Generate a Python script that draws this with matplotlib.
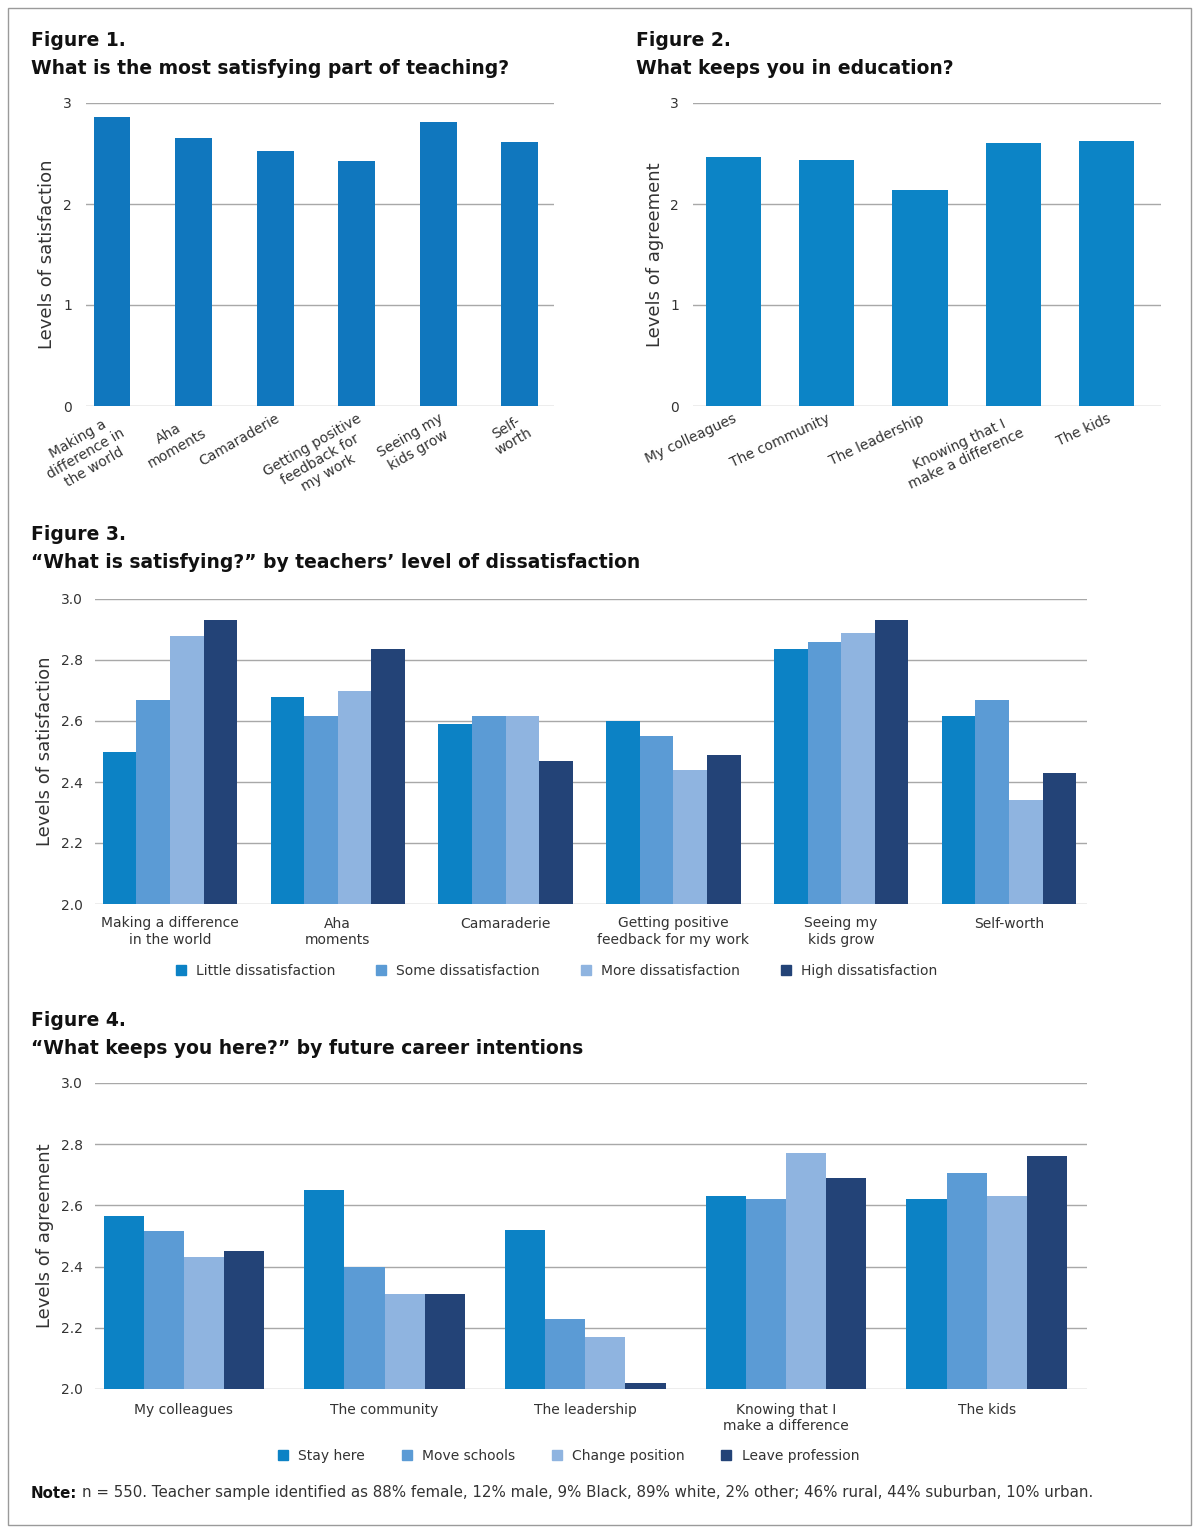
import matplotlib

matplotlib.use("Agg")
import matplotlib.pyplot as plt
import numpy as np
from matplotlib.lines import Line2D
from matplotlib.patches import Rectangle

plt.rcParams["font.family"] = ["DejaVu Sans"]

# Figure 1 data
fig1_labels = ["Making a\ndifference in\nthe world", "Aha\nmoments", "Camaraderie",
               "Getting positive\nfeedback for\nmy work", "Seeing my\nkids grow", "Self-\nworth"]
fig1_values = [2.86, 2.65, 2.52, 2.43, 2.81, 2.61]

# Figure 2 data
fig2_labels = ["My colleagues", "The community", "The leadership",
               "Knowing that I\nmake a difference", "The kids"]
fig2_values = [2.47, 2.44, 2.14, 2.60, 2.62]

# Figure 3 data
fig3_labels = ["Making a difference\nin the world", "Aha\nmoments", "Camaraderie",
               "Getting positive\nfeedback for my work", "Seeing my\nkids grow", "Self-worth"]
fig3_series = ["Little dissatisfaction", "Some dissatisfaction",
               "More dissatisfaction", "High dissatisfaction"]
little = [2.50, 2.68, 2.59, 2.60, 2.835, 2.615]
some = [2.67, 2.615, 2.615, 2.55, 2.86, 2.67]
more = [2.88, 2.70, 2.615, 2.44, 2.89, 2.34]
high = [2.93, 2.835, 2.47, 2.49, 2.93, 2.43]

# Figure 4 data
fig4_labels = ["My colleagues", "The community", "The leadership",
               "Knowing that I\nmake a difference", "The kids"]
fig4_series = ["Stay here", "Move schools", "Change position", "Leave profession"]
stay = [2.565, 2.65, 2.52, 2.63, 2.62]
move = [2.515, 2.40, 2.23, 2.62, 2.705]
change = [2.43, 2.31, 2.17, 2.77, 2.63]
leave = [2.45, 2.31, 2.02, 2.69, 2.76]

colors = ["#0c82c5", "#5b9bd5", "#8fb4e0", "#234377"]
grid_color = "#a8a8a8"
text_color = "#333333"

W, H = 1200, 1533
fig = plt.figure(figsize=(W / 100, H / 100), dpi=100)
fig.patches.append(Rectangle((8 / W, 1 - 1525 / H), 1183 / W, 1517 / H,
                             transform=fig.transFigure, fill=False,
                             edgecolor="#9a9a9a", linewidth=1))


def px_axes(x0, y0, x1, y1):
    return fig.add_axes([x0 / W, 1 - y1 / H, (x1 - x0) / W, (y1 - y0) / H])


def style(ax, ylabel):
    for s in ax.spines.values():
        s.set_visible(False)
    ax.set_axisbelow(True)
    ax.yaxis.grid(True, color=grid_color, linewidth=1)
    ax.tick_params(axis="both", length=0, labelsize=10, colors=text_color)
    ax.tick_params(axis="y", pad=10)
    ax.set_ylabel(ylabel, fontsize=13, color=text_color)


def title(x, y, num, text):
    fig.text(x / W, 1 - y / H, num, fontsize=13.5, fontweight="bold",
             color="#111111", va="center")
    fig.text(x / W, 1 - (y + 28) / H, text, fontsize=13.5, fontweight="bold",
             color="#111111", va="center")


# Figure 1
ax1 = px_axes(86, 103, 554, 406)
x1 = np.arange(len(fig1_values))
ax1.bar(x1, fig1_values, width=0.45, color="#1077be")
ax1.set_ylim(0, 3)
ax1.set_yticks([0, 1, 2, 3])
ax1.set_xlim(-0.32, 5.42)
style(ax1, "Levels of satisfaction")
ax1.set_xticks(x1)
ax1.set_xticklabels(fig1_labels, rotation=30, ha="right", va="top", fontsize=10,
                    rotation_mode="anchor", multialignment="center")
ax1.tick_params(axis="x", pad=4)
ax1.yaxis.set_label_coords(-0.064, 0.5)
title(31, 41, "Figure 1.", "What is the most satisfying part of teaching?")

# Figure 2
ax2 = px_axes(693, 103, 1161, 406)
x2 = np.arange(len(fig2_values))
ax2.bar(x2, fig2_values, width=0.59, color="#0c84c6")
ax2.set_ylim(0, 3)
ax2.set_yticks([0, 1, 2, 3])
ax2.set_xlim(-0.43, 4.58)
style(ax2, "Levels of agreement")
ax2.set_xticks(x2)
ax2.set_xticklabels(fig2_labels, rotation=25, ha="right", va="top", fontsize=10,
                    rotation_mode="anchor", multialignment="center")
ax2.tick_params(axis="x", pad=4)
ax2.yaxis.set_label_coords(-0.062, 0.5)
title(636, 41, "Figure 2.", "What keeps you in education?")


def grouped(ax, labels, series_vals, series_names, xlim, ylabel, legend_xy, colsp, xpad):
    x = np.arange(len(labels))
    w = 0.2
    for i, vals in enumerate(series_vals):
        ax.bar(x + (i - 1.5) * w, np.array(vals) - 2.0, bottom=2.0, width=w,
               color=colors[i], label=series_names[i])
    ax.set_ylim(2.0, 3.0)
    ax.set_yticks(np.arange(2.0, 3.01, 0.2))
    ax.set_yticklabels([f"{v:.1f}" for v in np.arange(2.0, 3.01, 0.2)])
    ax.set_xlim(*xlim)
    style(ax, ylabel)
    ax.set_xticks(x)
    ax.set_xticklabels(labels, fontsize=10, multialignment="center")
    ax.tick_params(axis="x", pad=xpad)
    ax.tick_params(axis="y", pad=9)
    ax.yaxis.set_label_coords(-0.041, 0.5)
    handles = [Line2D([], [], marker="s", linestyle="", markersize=7,
                      color=colors[i]) for i in range(4)]
    fig.legend(handles, series_names, loc="center",
               bbox_to_anchor=(legend_xy[0] / W, 1 - legend_xy[1] / H),
               ncol=4, frameon=False, fontsize=10, handletextpad=0.1,
               columnspacing=colsp, labelcolor=text_color)


# Figure 3
ax3 = px_axes(95, 599, 1087, 904)
grouped(ax3, fig3_labels, [little, some, more, high], fig3_series,
        (-0.447, 5.465), "Levels of satisfaction", (552, 971), 2.3, 9)
title(31, 534, "Figure 3.", "\u201cWhat is satisfying?\u201d by teachers\u2019 level of dissatisfaction")

# Figure 4
ax4 = px_axes(95, 1083, 1087, 1389)
grouped(ax4, fig4_labels, [stay, move, change, leave], fig4_series,
        (-0.443, 4.5), "Levels of agreement", (564, 1456), 2.0, 10)
title(31, 1020, "Figure 4.", "\u201cWhat keeps you here?\u201d by future career intentions")

# Note
note_y = 1 - 1493 / H
t = fig.text(31 / W, note_y, "Note:", fontsize=10.8, fontweight="bold",
             color="#111111", va="center")
fig.canvas.draw()
bb = t.get_window_extent()
fig.text((bb.x1 + 5) / W, note_y,
         "n = 550. Teacher sample identified as 88% female, 12% male, 9% Black, 89% white, "
         "2% other; 46% rural, 44% suburban, 10% urban.",
         fontsize=10.8, color=text_color, va="center")

fig.savefig("out.png", dpi=100)
